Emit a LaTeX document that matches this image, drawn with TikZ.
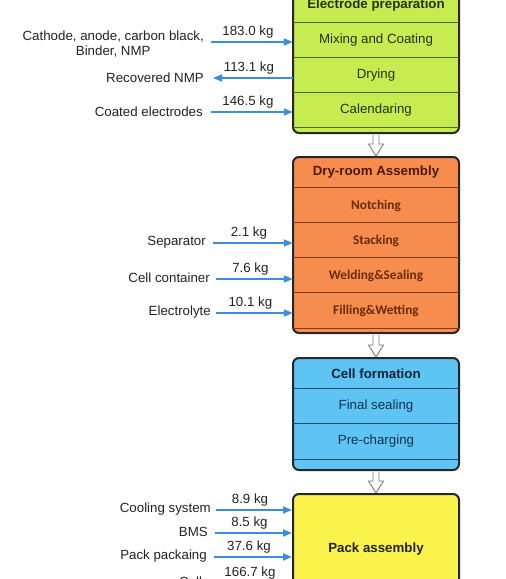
\documentclass[tikz,border=0pt]{standalone}
\usepackage{fontspec}
\setmainfont{Liberation Sans}
\newfontfamily\carl{Carlito}
\usetikzlibrary{arrows.meta,calc}
\definecolor{bordc}{HTML}{262626}
\definecolor{greenf}{HTML}{C7EC52}
\definecolor{greens}{HTML}{4E6B1A}
\definecolor{greent}{HTML}{26300E}
\definecolor{orangef}{HTML}{F68D4E}
\definecolor{oranges}{HTML}{7B3A12}
\definecolor{oranget}{HTML}{4A1A05}
\definecolor{orangerow}{HTML}{6A2C0C}
\definecolor{bluef}{HTML}{5EC4F3}
\definecolor{blues}{HTML}{1E4D70}
\definecolor{bluet}{HTML}{0E2438}
\definecolor{bluerow}{HTML}{13314F}
\definecolor{yellowf}{HTML}{FAF34C}
\definecolor{flowc}{HTML}{3C8EDB}
\definecolor{txtc}{HTML}{222222}
\definecolor{hollowc}{HTML}{7A7A7A}
\newcommand\harrow[2]{%
  \fill[white] ($(#1)+(-3,1)$) -- ($(#2)+(-3,-12)$) -- ($(#2)+(-7.5,-12)$) -- (#2) -- ($(#2)+(7.5,-12)$) -- ($(#2)+(3,-12)$) -- ($(#1)+(3,1)$) -- cycle;
  \draw[harr] ($(#1)+(-3,1)$) -- ($(#2)+(-3,-12)$) -- ($(#2)+(-7.5,-12)$) -- (#2) -- ($(#2)+(7.5,-12)$) -- ($(#2)+(3,-12)$) -- ($(#1)+(3,1)$);}
\begin{document}
\begin{tikzpicture}[x=1pt,y=-1pt,
  font=\fontsize{13.3}{15}\selectfont,
  stage/.style={draw=bordc, line width=2pt, rounded corners=6pt, minimum width=166pt, inner sep=0pt},
  rowbox/.style={minimum width=166pt, minimum height=35pt, inner sep=0pt},
  flow/.style={draw=flowc, line width=1.8pt, -{Triangle[length=9pt,width=7pt]}},
  lbl/.style={anchor=east, text=txtc, inner sep=0pt, align=center},
  kg/.style={midway, above=2.5pt, xshift=-4pt, text=txtc, inner sep=0pt},
  harr/.style={draw=hollowc, line width=0.9pt, line join=miter},
  sepg/.style={draw=greens, line width=1pt},
  sepo/.style={draw=oranges, line width=1pt},
  sepb/.style={draw=blues, line width=1pt}]
\useasboundingbox (0,0) rectangle (506,579);
\clip (0,0) rectangle (506,579);

% ---------- Electrode preparation ----------
\node[stage, fill=greenf, minimum height=145pt] (b1) at (376,60.5) {};
\node[rowbox, text=greent] (t1) at (376,5.5) {\bfseries Electrode preparation};
\node[rowbox, text=greent] (mix) at (376,40) {Mixing and Coating};
\node[rowbox, text=greent] (dry) at (376,75) {Drying};
\node[rowbox, text=greent] (cal) at (376,110) {Calendaring};
\foreach \r in {mix,dry,cal} \draw[sepg] (\r.north west) -- (\r.north east);
\draw[sepg] (cal.south west) -- (cal.south east);

% ---------- Dry-room Assembly ----------
\node[stage, fill=orangef, minimum height=176pt] (b2) at (376,245) {};
\node[rowbox, text=oranget] (t2) at (376,172) {\bfseries Dry-room Assembly};
\node[rowbox, text=orangerow] (notch) at (376,205.5) {\carl\bfseries Notching};
\node[rowbox, text=orangerow] (stack) at (376,240.5) {\carl\bfseries Stacking};
\node[rowbox, text=orangerow] (weld) at (376,275.5) {\carl\bfseries Welding\&Sealing};
\node[rowbox, text=orangerow] (fill) at (376,310.5) {\carl\bfseries Filling\&Wetting};
\foreach \r in {notch,stack,weld,fill} \draw[sepo] (\r.north west) -- (\r.north east);
\draw[sepo] (fill.south west) -- (fill.south east);

% ---------- Cell formation ----------
\node[stage, fill=bluef, minimum height=112pt] (b3) at (376,414) {};
\node[rowbox, text=bluet] (t3) at (376,373.5) {\bfseries Cell formation};
\node[rowbox, text=bluerow] (fin) at (376,406.5) {Final sealing};
\node[rowbox, text=bluerow] (pre) at (376,441.5) {Pre-charging};
\foreach \r in {fin,pre} \draw[sepb] (\r.north west) -- (\r.north east);
\draw[sepb] (pre.south west) -- (pre.south east);

% ---------- Pack assembly ----------
\node[stage, fill=yellowf, minimum height=110pt, text=txtc] (b4) at (376,549) {\bfseries Pack assembly};

% ---------- hollow arrows between stages ----------
\harrow{b1.south}{b2.north}
\harrow{b2.south}{b3.north}
\harrow{b3.south}{b4.north}

% ---------- inputs / outputs ----------
\coordinate (s1) at (211,42);
\coordinate (s2) at (213,78);
\coordinate (s3) at (211,112);
\coordinate (s4) at (213,243);
\coordinate (s5) at (216,279);
\coordinate (s6) at (216,313);
\coordinate (s7) at (216,510);
\coordinate (s8) at (215,533);
\coordinate (s9) at (214,557);
\coordinate (s10) at (216,583);

\node[lbl] (l1) at ($(s1)+(-7,2.5)$) {Cathode, anode, carbon black,\\Binder, NMP};
\node[lbl] (l2) at ($(s2)+(-9,0)$) {Recovered NMP};
\node[lbl] (l3) at ($(s3)+(-8,0)$) {Coated electrodes};
\node[lbl] (l4) at ($(s4)+(-7,-1)$) {Separator};
\node[lbl] (l5) at ($(s5)+(-6,-1)$) {Cell container};
\node[lbl] (l6) at ($(s6)+(-5,-1)$) {Electrolyte};
\node[lbl] (l7) at ($(s7)+(-5,-1)$) {Cooling system};
\node[lbl] (l8) at ($(s8)+(-7,-1)$) {BMS};
\node[lbl] (l9) at ($(s9)+(-7,-1)$) {Pack packaing};
\node[lbl] (l10) at ($(s10)+(-7,-1)$) {Cells};

\draw[flow] (s1) -- (s1 -| mix.west) node[kg] {183.0 kg};
\draw[flow] (s2 -| dry.west) -- (s2) node[kg] {113.1 kg};
\draw[flow] (s3) -- (s3 -| cal.west) node[kg] {146.5 kg};
\draw[flow] (s4) -- (s4 -| stack.west) node[kg] {2.1 kg};
\draw[flow] (s5) -- (s5 -| weld.west) node[kg] {7.6 kg};
\draw[flow] (s6) -- (s6 -| fill.west) node[kg] {10.1 kg};
\draw[flow] (s7) -- (s7 -| b4.west) node[kg] {8.9 kg};
\draw[flow] (s8) -- (s8 -| b4.west) node[kg] {8.5 kg};
\draw[flow] (s9) -- (s9 -| b4.west) node[kg] {37.6 kg};
\draw[flow] (s10) -- (s10 -| b4.west) node[kg] {166.7 kg};
\end{tikzpicture}
\end{document}
